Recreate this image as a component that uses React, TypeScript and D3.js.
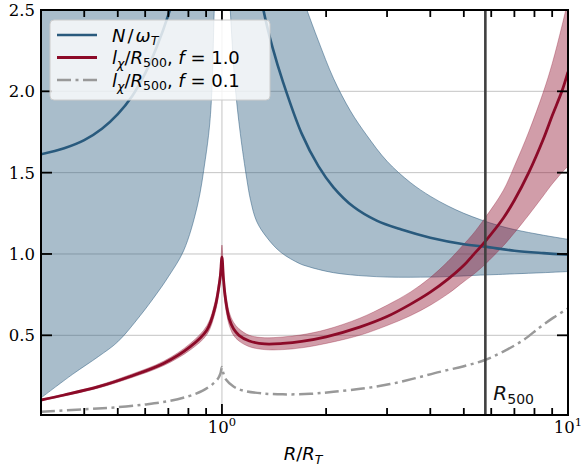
import React from "react";
import * as d3 from "d3";

// ---------- data ----------
// red: l_chi / R500, f = 1.0 (line + band)
const R_RED = [0.3, 0.35, 0.44, 0.54, 0.68, 0.81, 0.905, 0.956, 0.98, 0.99, 1.0, 1.01, 1.02, 1.035, 1.05, 1.08, 1.12, 1.2, 1.33, 1.5, 1.7, 2.0, 2.5, 3.0, 3.5, 4.0, 4.5, 5.0, 5.3, 5.75, 6.5, 7.0, 7.7, 8.5, 9.0, 9.6, 10];
const RED_MID = [0.102, 0.133, 0.184, 0.245, 0.328, 0.43, 0.533, 0.676, 0.8, 0.87, 0.98, 0.85, 0.75, 0.66, 0.6, 0.54, 0.5, 0.465, 0.447, 0.45, 0.462, 0.49, 0.55, 0.615, 0.69, 0.765, 0.845, 0.93, 0.99, 1.075, 1.22, 1.33, 1.5, 1.71, 1.85, 2.0, 2.12];
const RED_LO = [0.097, 0.127, 0.176, 0.235, 0.315, 0.41, 0.505, 0.64, 0.76, 0.83, 0.94, 0.8, 0.7, 0.615, 0.56, 0.5, 0.465, 0.43, 0.412, 0.412, 0.423, 0.45, 0.5, 0.56, 0.62, 0.685, 0.755, 0.83, 0.87, 0.935, 1.05, 1.13, 1.24, 1.36, 1.43, 1.5, 1.54];
const RED_HI = [0.107, 0.139, 0.192, 0.256, 0.342, 0.45, 0.56, 0.71, 0.84, 0.91, 1.055, 0.9, 0.8, 0.705, 0.64, 0.58, 0.54, 0.5, 0.485, 0.49, 0.503, 0.535, 0.605, 0.685, 0.765, 0.855, 0.955, 1.06, 1.12, 1.22, 1.39, 1.54, 1.75, 2.0, 2.17, 2.4, 2.56];

// gray: l_chi / R500, f = 0.1
const R_GRAY = [0.3, 0.4, 0.5, 0.6, 0.7, 0.8, 0.88, 0.94, 0.975, 0.99, 1.0, 1.01, 1.03, 1.08, 1.15, 1.3, 1.5, 1.8, 2.1, 2.6, 3.06, 3.6, 4.26, 5.0, 5.75, 6.5, 7.42, 8.3, 9.1, 10];
const GRAY = [0.03, 0.045, 0.058, 0.075, 0.095, 0.125, 0.16, 0.2, 0.235, 0.265, 0.305, 0.265, 0.225, 0.185, 0.16, 0.143, 0.137, 0.14, 0.153, 0.175, 0.2, 0.235, 0.275, 0.31, 0.348, 0.4, 0.47, 0.55, 0.61, 0.665];

// blue: N / omega_T, two branches
const R_BLUE_L = [0.3, 0.35, 0.4, 0.45, 0.5, 0.55, 0.6, 0.65, 0.7, 0.73];
const BLUE_L = [1.613, 1.65, 1.7, 1.77, 1.86, 1.97, 2.11, 2.28, 2.47, 2.6];
const R_BLUE_R = [1.29, 1.318, 1.4, 1.5, 1.7, 1.9, 2.1, 2.4, 2.8, 3.3, 4.0, 5.0, 5.75, 7.0, 8.5, 10];
const BLUE_R = [2.62, 2.5, 2.27, 2.06, 1.74, 1.54, 1.41, 1.29, 1.205, 1.15, 1.1, 1.06, 1.045, 1.02, 1.005, 0.995];

// blue band, left of R_T (upper edge is above the axes)
const R_BAND_L = [0.3, 0.37, 0.44, 0.5, 0.58, 0.65, 0.7, 0.775, 0.85, 0.895, 0.92, 0.935, 0.95, 0.955];
const BAND_L_LO = [0.115, 0.26, 0.37, 0.46, 0.62, 0.76, 0.86, 1.02, 1.3, 1.58, 1.78, 2.0, 2.5, 2.62];

// blue band, right of R_T (null = above the axes)
const R_BAND_R = [1.05, 1.057, 1.09, 1.13, 1.18, 1.21, 1.26, 1.35, 1.48, 1.68, 1.76, 1.9, 2.1, 2.35, 2.62, 3.0, 3.5, 4.0, 4.5, 5.0, 5.6, 6.3, 7.0, 8.5, 10];
const BAND_R_LO = [2.62, 2.5, 2.05, 1.74, 1.46, 1.33, 1.2, 1.1, 1.01, 0.94, 0.925, 0.905, 0.885, 0.872, 0.864, 0.858, 0.857, 0.858, 0.861, 0.865, 0.87, 0.874, 0.878, 0.885, 0.892];
const BAND_R_HI: (number | null)[] = [null, null, null, null, null, null, null, null, null, 2.62, 2.5, 2.31, 2.08, 1.88, 1.73, 1.57, 1.44, 1.355, 1.295, 1.25, 1.21, 1.175, 1.15, 1.115, 1.09];

const R500 = 5.77;
const Y_TICKS = [0.5, 1.0, 1.5, 2.0, 2.5];
const Y_TICK_LABELS = ["0.5", "1.0", "1.5", "2.0", "2.5"];
const X_MAJOR = [1, 10];
const X_MAJOR_EXP = ["0", "1"];
const X_MINOR = [0.3, 0.4, 0.5, 0.6, 0.7, 0.8, 0.9, 2, 3, 4, 5, 6, 7, 8, 9];

// ---------- layout ----------
const W = 582, H = 466;
const L = 41, R = 568, T = 10, B = 415;
const BLUE = "#295a7d";
const RED = "#8c0a28";
const GRAYC = "#999999";

export default function App() {
  const x = d3.scaleLog().domain([0.3, 10]).range([L, R]);
  const y = d3.scaleLinear().domain([0.01, 2.5]).range([B, T]);
  const above = T - 8;
  const curve = d3.curveCatmullRom.alpha(0.5);

  const lineGen = d3.line<[number, number]>().x(d => x(d[0])).y(d => y(d[1])).curve(curve);
  const zip = (xs: number[], ys: number[]) => xs.map((v, i) => [v, ys[i]] as [number, number]);

  const redBand = d3.area<number>()
    .x(i => x(R_RED[i])).y0(i => y(RED_LO[i])).y1(i => y(RED_HI[i]))
    .curve(curve)(R_RED.map((_, i) => i)) || "";
  const bandL = d3.area<number>()
    .x(i => x(R_BAND_L[i])).y0(i => y(BAND_L_LO[i])).y1(() => above)
    .curve(curve)(R_BAND_L.map((_, i) => i)) || "";
  const bandR = d3.area<number>()
    .x(i => x(R_BAND_R[i])).y0(i => y(BAND_R_LO[i]))
    .y1(i => (BAND_R_HI[i] == null ? above : y(BAND_R_HI[i] as number)))
    .curve(curve)(R_BAND_R.map((_, i) => i)) || "";

  const tickW = 1.8;
  const sans = "DejaVu Sans, sans-serif";
  const serif = "DejaVu Serif, serif";
  const dash = "14,4.5,3,4.5";

  return (
    <svg width={W} height={H} style={{ position: "absolute", left: 0, top: 0, background: "#fff" }}>
      <defs>
        <clipPath id="plot"><rect x={L} y={T} width={R - L} height={B - T} /></clipPath>
      </defs>
      {/* grid */}
      <g stroke="#c4c4c4" strokeWidth={1}>
        {Y_TICKS.slice(0, 4).map(v => <line key={v} x1={L} x2={R} y1={y(v)} y2={y(v)} />)}
        <line x1={x(1)} x2={x(1)} y1={T} y2={B} />
      </g>
      <g clipPath="url(#plot)">
        <path d={bandL} fill={BLUE} fillOpacity={0.4} stroke={BLUE} strokeOpacity={0.5} strokeWidth={1} />
        <path d={bandR} fill={BLUE} fillOpacity={0.4} stroke={BLUE} strokeOpacity={0.5} strokeWidth={1} />
        <path d={redBand} fill={RED} fillOpacity={0.4} stroke={RED} strokeOpacity={0.3} strokeWidth={1} />
        <path d={lineGen(zip(R_BLUE_L, BLUE_L)) || ""} fill="none" stroke={BLUE} strokeWidth={2.6} />
        <path d={lineGen(zip(R_BLUE_R, BLUE_R)) || ""} fill="none" stroke={BLUE} strokeWidth={2.6} />
        <path d={lineGen(zip(R_RED, RED_MID)) || ""} fill="none" stroke={RED} strokeWidth={2.8} />
        <path d={lineGen(zip(R_GRAY, GRAY)) || ""} fill="none" stroke={GRAYC} strokeWidth={2.5} strokeDasharray={dash} />
        <line x1={x(R500)} x2={x(R500)} y1={T} y2={B} stroke="#404040" strokeWidth={2.6} />
      </g>
      {/* R500 label */}
      <text x={x(R500) + 8} y={400} fontFamily={sans} fontSize={20} fill="#111">
        <tspan fontStyle="italic">R</tspan>
        <tspan fontSize={14} dy={4}>500</tspan>
      </text>
      {/* frame */}
      <rect x={L} y={T} width={R - L} height={B - T} fill="none" stroke="#000" strokeWidth={2} />
      {/* ticks */}
      <g stroke="#000" strokeWidth={tickW}>
        {X_MINOR.map(v => (
          <g key={"m" + v}>
            <line x1={x(v)} x2={x(v)} y1={B} y2={B - 7} />
            <line x1={x(v)} x2={x(v)} y1={T} y2={T + 7} />
          </g>
        ))}
        {X_MAJOR.map(v => (
          <g key={"M" + v}>
            <line x1={x(v)} x2={x(v)} y1={B} y2={B - 11} />
            <line x1={x(v)} x2={x(v)} y1={T} y2={T + 11} />
          </g>
        ))}
        {Y_TICKS.map(v => (
          <g key={"y" + v}>
            <line x1={L} x2={L + 11} y1={y(v)} y2={y(v)} />
            <line x1={R} x2={R - 11} y1={y(v)} y2={y(v)} />
          </g>
        ))}
      </g>
      {/* tick labels */}
      <g fontFamily={serif} fontSize={16.5} fill="#000">
        {Y_TICKS.map((v, i) => (
          <text key={v} x={L - 6} y={y(v)} dy="0.36em" textAnchor="end">{Y_TICK_LABELS[i]}</text>
        ))}
        {X_MAJOR.map((v, i) => (
          <text key={v} x={x(v)} y={433} textAnchor="middle">
            10<tspan fontSize={11.5} dy={-7}>{X_MAJOR_EXP[i]}</tspan>
          </text>
        ))}
      </g>
      {/* axis label */}
      <text x={303} y={460} textAnchor="middle" fontFamily={sans} fontSize={18} fill="#000">
        <tspan fontStyle="italic">R</tspan>/<tspan fontStyle="italic">R</tspan>
        <tspan fontStyle="italic" fontSize={12.5} dy={4}>T</tspan>
      </text>
      {/* legend */}
      <g>
        <rect x={50} y={20} width={220} height={80} rx={4} fill="#fff" fillOpacity={0.8} stroke="#cccccc" strokeWidth={1} />
        <line x1={57} x2={97} y1={35} y2={35} stroke={BLUE} strokeWidth={2.6} />
        <line x1={57} x2={97} y1={57.5} y2={57.5} stroke={RED} strokeWidth={2.8} />
        <line x1={57} x2={97} y1={80} y2={80} stroke={GRAYC} strokeWidth={2.5} strokeDasharray={dash} />
        <g fontFamily={sans} fontSize={18} fill="#000">
          <text x={112} y={41.5}>
            <tspan fontStyle="italic">N</tspan>
            <tspan dx={2}>/</tspan>
            <tspan fontStyle="italic" dx={2}>ω</tspan>
            <tspan fontStyle="italic" fontSize={12.5} dy={3}>T</tspan>
          </text>
          <text x={112} y={64}>
            <tspan fontStyle="italic">l</tspan>
            <tspan fontStyle="italic" fontSize={12.5} dy={4}>χ</tspan>
            <tspan dy={-4}>/</tspan>
            <tspan fontStyle="italic">R</tspan>
            <tspan fontSize={12.5} dy={3}>500</tspan>
            <tspan dy={-3}>, </tspan>
            <tspan fontStyle="italic">f</tspan>
            <tspan> = 1.0</tspan>
          </text>
          <text x={112} y={86.5}>
            <tspan fontStyle="italic">l</tspan>
            <tspan fontStyle="italic" fontSize={12.5} dy={4}>χ</tspan>
            <tspan dy={-4}>/</tspan>
            <tspan fontStyle="italic">R</tspan>
            <tspan fontSize={12.5} dy={3}>500</tspan>
            <tspan dy={-3}>, </tspan>
            <tspan fontStyle="italic">f</tspan>
            <tspan> = 0.1</tspan>
          </text>
        </g>
      </g>
    </svg>
  );
}
